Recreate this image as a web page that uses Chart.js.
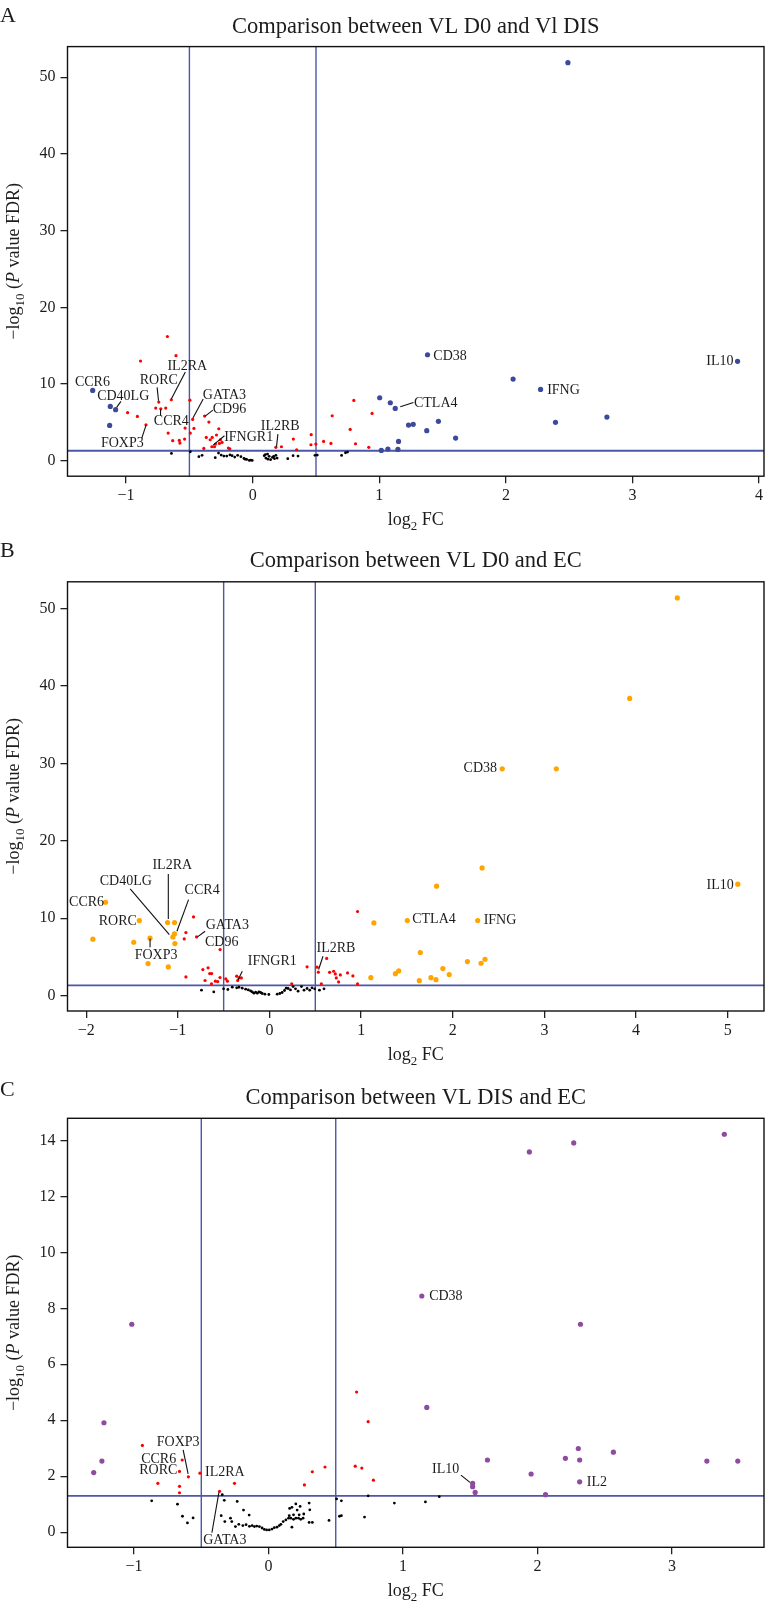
<!DOCTYPE html>
<html>
<head>
<meta charset="utf-8">
<script src="https://cdn.jsdelivr.net/npm/chart.js@4.4.1/dist/chart.umd.min.js"></script>
<style>
  html, body { margin: 0; padding: 0; background: #ffffff; }
  body { width: 768px; height: 1607px; position: relative; overflow: hidden; }
  .panel { position: absolute; left: 0; width: 768px; }
</style>
</head>
<body>
<div class="panel" id="pA" style="top:0px;height:535px"><canvas id="cA" width="768" height="535"></canvas></div>
<div class="panel" id="pB" style="top:535px;height:535px"><canvas id="cB" width="768" height="535"></canvas></div>
<div class="panel" id="pC" style="top:1070px;height:537px"><canvas id="cC" width="768" height="537"></canvas></div>
<script>
// ---------------- DATA ----------------
const FC_CUT = 0.5;                 // |log2 FC| threshold
const P_CUT = -Math.log10(0.05);    // FDR threshold line

// Panel A: VL D0 vs Vl DIS
const titleA = "Comparison between VL D0 and Vl DIS";
const xTicksA = [-1, 0, 1, 2, 3, 4];
const yTicksA = [0, 10, 20, 30, 40, 50];
const aSigX = [2.49, 1.381, 3.83, 2.057, 2.274, 1.003, 1.087, 1.126, 2.798, 2.392, 1.467, 1.231, 1.268, 1.375, 1.603, 1.152, 1.016, 1.068, 1.147, -1.264, -1.125, -1.083, -1.130];
const aSigY = [51.9, 13.82, 12.96, 10.65, 9.30, 8.21, 7.56, 6.82, 5.69, 5.00, 5.13, 4.65, 4.74, 3.91, 2.95, 2.52, 1.34, 1.52, 1.47, 9.17, 7.08, 6.65, 4.60];
const aRedX = [-0.674, -0.606, -0.886, -0.643, -0.742, -0.766, -0.726, -0.687, -0.496, -0.988, -0.911, -0.843, -0.474, -0.380, -0.346, -0.534, -0.464, -0.668, -0.493, -0.268, -0.367, -0.320, -0.286, -0.632, -0.580, -0.575, -0.538, -0.336, -0.255, -0.386, -0.323, -0.302, -0.294, -0.263, -0.242, -0.192, -0.181,
  0.183, 0.227, 0.321, 0.347, 0.462, 0.460, 0.499, 0.560, 0.618, 0.628, 0.770, 0.799, 0.812, 0.917, 0.943];
const aRedY = [16.2, 13.7, 13.0, 7.95, 7.65, 6.86, 6.77, 6.86, 7.9, 6.26, 5.78, 4.69, 5.39, 5.82, 5.04, 4.26, 4.21, 3.60, 3.60, 4.17, 3.04, 3.04, 3.35, 2.61, 2.65, 2.30, 2.82, 2.73, 2.73, 1.60, 1.82, 1.82, 2.17, 2.26, 2.39, 1.65, 1.56,
  1.74, 1.82, 2.82, 1.43, 3.39, 2.08, 2.17, 2.52, 2.26, 5.86, 4.08, 7.86, 2.21, 1.74, 6.17];
const aNsX = [-0.642, -0.493, -0.425, -0.40, -0.296, -0.270, -0.249, -0.228, -0.205, -0.18, -0.163, -0.142, -0.119, -0.093, -0.069, -0.06, -0.048, -0.027, -0.015, -0.004, 0.091, 0.10, 0.104, 0.117, 0.12, 0.130, 0.141, 0.156, 0.165, 0.172, 0.183, 0.193, 0.277, 0.319, 0.358, 0.492, 0.510, 0.702, 0.733, 0.749];
const aNsY = [0.95, 1.17, 0.52, 0.70, 0.39, 1.0, 0.74, 0.60, 0.60, 0.75, 0.65, 0.48, 0.70, 0.52, 0.30, 0.20, 0.17, 0.04, 0.08, 0.04, 0.65, 0.80, 0.35, 0.87, 0.20, 0.57, 0.13, 0.43, 0.55, 0.26, 0.70, 0.35, 0.26, 0.65, 0.60, 0.70, 0.74, 0.69, 1.04, 1.13];
const aLabText = ["CCR6", "CD40LG", "RORC", "IL2RA", "GATA3", "CD96", "CCR4", "FOXP3", "IFNGR1", "IL2RB", "CD38", "CTLA4", "IFNG", "IL10"];
const aLabX = [-1.266, -1.023, -0.742, -0.517, -0.223, -0.184, -0.643, -1.03, -0.032, 0.217, 1.559, 1.446, 2.455, 3.69];
const aLabY = [10.3, 8.52, 10.56, 12.43, 8.6, 6.78, 5.26, 2.39, 3.08, 4.52, 13.73, 7.52, 9.26, 12.96];
const aLeaders = [[-1.041, 7.73, -1.075, 6.95], [-0.755, 9.56, -0.744, 7.82], [-0.532, 11.56, -0.643, 8.04], [-0.391, 8.04, -0.472, 5.56], [-0.315, 6.60, -0.375, 5.82], [-0.728, 5.87, -0.728, 6.73], [-0.876, 2.95, -0.843, 4.6], [-0.223, 3.26, -0.315, 2.0], [0.199, 3.47, 0.188, 1.83], [1.166, 7.04, 1.27, 7.6]];

// Panel B: VL D0 vs EC
const titleB = "Comparison between VL D0 and EC";
const xTicksB = [-2, -1, 0, 1, 2, 3, 4, 5];
const yTicksB = [0, 10, 20, 30, 40, 50];
const bSigX = [4.45, 3.93, 2.54, 3.13, 2.32, 1.823, 5.11, -1.789, 1.504, 2.272, 1.139, -1.42, -1.112, -1.036, -1.036, -1.054, -1.032, -1.927, -1.481, -1.304, -1.325, -1.104, 1.646, 2.16, 2.352, 2.309, 1.892, 1.961, 1.41, 1.374, 1.106, 1.762, 1.817, 1.635];
const bSigY = [51.4, 38.4, 29.3, 29.3, 16.5, 14.13, 14.4, 12.06, 9.69, 9.69, 9.39, 9.69, 9.43, 9.43, 7.97, 7.58, 6.72, 7.28, 6.89, 7.41, 4.13, 3.70, 5.56, 4.39, 4.69, 4.17, 3.49, 2.71, 3.18, 2.83, 2.31, 2.31, 2.05, 1.92];
const bRedX = [-0.829, -0.912, -0.930, -0.796, -0.539, -0.912, -0.727, -0.670, -0.652, -0.631, -0.703, -0.633, -0.590, -0.565, -0.54, -0.477, -0.459, -0.358, -0.333, -0.307, -0.347, 0.243, 0.41, 0.52, 0.533, 0.624, 0.566, 0.656, 0.70, 0.718, 0.773, 0.729, 0.754, 0.852, 0.91, 0.961, 0.961];
const bRedY = [10.16, 8.14, 7.32, 7.58, 5.94, 2.41, 3.36, 3.58, 2.84, 2.84, 1.94, 1.51, 1.85, 1.81, 2.33, 2.15, 1.85, 2.50, 2.28, 2.28, 1.94, 1.51, 3.71, 3.66, 3.02, 4.79, 1.51, 3.0, 3.14, 2.79, 2.66, 2.27, 1.76, 2.92, 2.53, 10.86, 1.5];
const bNsX = [-0.742, -0.608, -0.501, -0.454, -0.406, -0.358, -0.333, -0.297, -0.26, -0.231, -0.206, -0.188, -0.17, -0.151, -0.133, -0.115, -0.097, -0.079, -0.05, -0.007, 0.084, 0.113, 0.138, 0.164, 0.182, 0.203, 0.229, 0.258, 0.284, 0.312, 0.349, 0.377, 0.41, 0.439, 0.464, 0.493, 0.545, 0.595];
const bNsY = [0.69, 0.47, 0.86, 0.78, 1.08, 1.0, 1.07, 0.95, 0.82, 0.73, 0.60, 0.47, 0.30, 0.43, 0.30, 0.47, 0.39, 0.26, 0.17, 0.13, 0.17, 0.26, 0.39, 0.65, 0.95, 0.91, 0.73, 1.16, 0.86, 0.56, 1.16, 0.69, 0.91, 0.69, 0.99, 0.86, 0.69, 0.86];
const bLabText = ["CCR6", "RORC", "IL2RA", "CD40LG", "CCR4", "GATA3", "CD96", "FOXP3", "IFNGR1", "IL2RB", "CD38", "CTLA4", "IFNG", "IL10"];
const bLabX = [-1.996, -1.655, -1.061, -1.568, -0.735, -0.46, -0.521, -1.238, 0.03, 0.725, 2.30, 1.795, 2.515, 4.917];
const bLabY = [12.1, 9.69, 16.93, 14.86, 13.61, 9.18, 6.93, 5.3, 4.52, 6.15, 29.39, 9.95, 9.77, 14.36];
const bLeaders = [[-1.104, 15.72, -1.104, 9.9], [-1.52, 13.78, -1.093, 7.88], [-0.883, 12.4, -1.01, 8.31], [-0.702, 8.31, -0.786, 7.58], [-1.303, 7.37, -1.303, 6.24], [-0.297, 3.14, -0.343, 2.02], [0.584, 5.08, 0.536, 3.36]];

// Panel C: VL DIS vs EC
const titleC = "Comparison between VL DIS and EC";
const xTicksC = [-1, 0, 1, 2, 3];
const yTicksC = [0, 2, 4, 6, 8, 10, 12, 14];
const cSigX = [3.39, 2.27, 1.94, 1.14, -1.017, 2.32, 1.177, -1.224, -1.239, -1.30, 2.304, 2.565, 2.208, 2.314, 1.628, 3.26, 3.49, 1.953, 2.314, 1.518, 1.518, 1.537, 2.06];
const cSigY = [14.22, 13.91, 13.59, 8.44, 7.43, 7.43, 4.46, 3.91, 2.54, 2.13, 2.99, 2.86, 2.64, 2.58, 2.58, 2.54, 2.54, 2.08, 1.80, 1.745, 1.625, 1.42, 1.34];
const cRedX = [-0.938, -0.642, -0.662, -0.596, -0.51, -0.823, -0.662, -0.662, -0.364, -0.253, 0.267, 0.326, 0.42, 0.655, 0.741, 0.645, 0.694, 0.78];
const cRedY = [3.10, 2.58, 2.17, 1.98, 2.11, 1.745, 1.64, 1.41, 1.46, 1.745, 1.69, 2.16, 2.33, 5.01, 3.95, 2.36, 2.29, 1.86];
const cNsX = [-0.869, -0.677, -0.640, -0.603, -0.561, -0.344, -0.329, -0.233, -0.186, -0.144, -0.352, -0.325, -0.283, -0.273, -0.246, -0.221,
  -0.191, -0.167, -0.142, -0.122, -0.105, -0.088, -0.068, -0.048, -0.031, -0.014, 0.006, 0.026, 0.043, 0.063, 0.080, 0.092, 0.109, 0.129, 0.149, 0.166, 0.186, 0.203, 0.223, 0.240, 0.257,
  0.157, 0.174, 0.203, 0.235, 0.213, 0.186, 0.228, 0.262, 0.302, 0.307, 0.302, 0.326, 0.154, 0.174,
  0.45, 0.506, 0.542, 0.528, 0.542, 0.714, 0.741, 0.936, 1.167, 1.27];
const cNsY = [1.12, 1.00, 0.57, 0.33, 0.51, 1.34, 1.14, 1.10, 0.79, 0.61, 0.59, 0.38, 0.50, 0.38, 0.20, 0.28,
  0.235, 0.27, 0.21, 0.235, 0.20, 0.22, 0.20, 0.15, 0.10, 0.08, 0.08, 0.11, 0.16, 0.18, 0.235, 0.28, 0.38, 0.44, 0.50, 0.50, 0.46, 0.50, 0.50, 0.46, 0.50,
  0.85, 0.89, 1.01, 0.92, 0.79, 0.62, 0.62, 0.65, 1.04, 0.80, 0.35, 0.35, 0.59, 0.18,
  0.42, 1.19, 1.12, 0.57, 0.59, 0.54, 1.30, 1.04, 1.08, 1.27];
const cLabText = ["CD38", "FOXP3", "CCR6", "RORC", "IL2RA", "GATA3", "IL10", "IL2"];
const cLabX = [1.319, -0.672, -0.817, -0.82, -0.325, -0.325, 1.317, 2.442];
const cLabY = [8.46, 3.24, 2.61, 2.23, 2.17, -0.26, 2.28, 1.80];
const cLeaders = [[-0.635, 2.94, -0.598, 2.08], [-0.369, 1.42, -0.421, -0.02], [1.431, 2.04, 1.498, 1.78]];

// ---------------- STYLE ----------------
const FONT = '"Liberation Serif", "DejaVu Serif", serif';
const INK = '#1c1c1c';
const LINE_BLUE = '#4b57a8';

function pts(xs, ys) { return xs.map((x, i) => ({ x: x, y: ys[i] })); }

function drawRich(ctx, segs, cx, cy, size, rotate) {
  ctx.save();
  ctx.translate(cx, cy);
  if (rotate) ctx.rotate(-Math.PI / 2);
  let total = 0;
  const parts = segs.map(s => {
    const fs = s.sub ? size * 0.72 : size;
    const font = (s.it ? 'italic ' : '') + fs + 'px ' + FONT;
    ctx.font = font;
    const w = ctx.measureText(s.t).width;
    total += w;
    return { s: s, font: font, w: w };
  });
  let x = -total / 2;
  ctx.textBaseline = 'alphabetic';
  ctx.textAlign = 'left';
  ctx.fillStyle = INK;
  parts.forEach(p => {
    ctx.font = p.font;
    ctx.fillText(p.s.t, x, p.s.sub ? size * 0.28 : 0);
    x += p.w;
  });
  ctx.restore();
}

function makePanel(id, cfg) {
  const H = cfg.H;
  const decor = {
    id: 'decor',
    beforeDatasetsDraw(chart) {
      const ctx = chart.ctx, a = chart.chartArea;
      const xs = chart.scales.x, ys = chart.scales.y;
      ctx.save();
      ctx.beginPath(); ctx.rect(a.left, a.top, a.right - a.left, a.bottom - a.top); ctx.clip();
      ctx.strokeStyle = LINE_BLUE;
      ctx.lineWidth = 1.4;
      [-FC_CUT, FC_CUT].forEach(v => {
        const px = xs.getPixelForValue(v);
        ctx.beginPath(); ctx.moveTo(px, a.top); ctx.lineTo(px, a.bottom); ctx.stroke();
      });
      ctx.lineWidth = 1.8;
      const py = ys.getPixelForValue(P_CUT);
      ctx.beginPath(); ctx.moveTo(a.left, py); ctx.lineTo(a.right, py); ctx.stroke();
      ctx.restore();
    },
    afterDatasetsDraw(chart) {
      const ctx = chart.ctx, a = chart.chartArea;
      const xs = chart.scales.x, ys = chart.scales.y;
      ctx.save();
      // leader lines
      ctx.strokeStyle = '#111';
      ctx.lineWidth = 1.1;
      cfg.leaders.forEach(l => {
        ctx.beginPath();
        ctx.moveTo(xs.getPixelForValue(l[0]), ys.getPixelForValue(l[1]));
        ctx.lineTo(xs.getPixelForValue(l[2]), ys.getPixelForValue(l[3]));
        ctx.stroke();
      });
      // gene labels
      ctx.font = '14px ' + FONT;
      ctx.fillStyle = INK;
      ctx.textAlign = 'center';
      ctx.textBaseline = 'middle';
      cfg.labText.forEach((t, i) => {
        ctx.fillText(t, xs.getPixelForValue(cfg.labX[i]), ys.getPixelForValue(cfg.labY[i]) + 0.5);
      });
      // frame
      ctx.strokeStyle = '#111';
      ctx.lineWidth = 1.4;
      ctx.strokeRect(a.left, a.top, a.right - a.left, a.bottom - a.top);
      // title
      ctx.font = '22.5px ' + FONT;
      ctx.textAlign = 'center';
      ctx.textBaseline = 'alphabetic';
      ctx.fillText(cfg.title, (a.left + a.right) / 2, cfg.titleBase);
      // panel letter
      ctx.font = '22px ' + FONT;
      ctx.textAlign = 'left';
      ctx.fillText(cfg.letter, 0, cfg.letterBase);
      ctx.restore();
      // axis titles
      drawRich(ctx, [{ t: 'log' }, { t: '2', sub: true }, { t: ' FC' }], (a.left + a.right) / 2, a.bottom + 49, 18, false);
      drawRich(ctx, [{ t: '\u2212log' }, { t: '10', sub: true }, { t: ' (' }, { t: 'P', it: true }, { t: ' value FDR)' }], 19, (a.top + a.bottom) / 2, 18, true);
    }
  };

  const tickFont = { family: FONT, size: 16 };
  return new Chart(document.getElementById(id), {
    type: 'scatter',
    data: {
      datasets: [
        { data: pts(cfg.nsX, cfg.nsY), backgroundColor: '#000000', borderWidth: 0, pointRadius: 1.4 },
        { data: pts(cfg.redX, cfg.redY), backgroundColor: '#ff0000', borderWidth: 0, pointRadius: 1.6 },
        { data: pts(cfg.sigX, cfg.sigY), backgroundColor: cfg.sigColor, borderWidth: 0, pointRadius: 2.6 }
      ]
    },
    options: {
      responsive: false,
      animation: false,
      devicePixelRatio: 1,
      layout: { padding: { top: cfg.top, right: 2, left: 0, bottom: 0 } },
      plugins: { legend: { display: false }, tooltip: { enabled: false }, title: { display: false } },
      scales: {
        x: {
          type: 'linear', min: cfg.xMin, max: cfg.xMax,
          afterBuildTicks: s => { s.ticks = cfg.xTicks.map(v => ({ value: v })); },
          afterFit: s => { s.height = H - cfg.bottom; },
          border: { display: false },
          grid: { drawOnChartArea: false, drawTicks: true, tickLength: 7, color: '#222', lineWidth: 1.3 },
          ticks: { font: tickFont, color: INK, padding: 3, maxRotation: 0, callback: v => String(v).replace('-', '\u2212') }
        },
        y: {
          type: 'linear', min: cfg.yMin, max: cfg.yMax,
          afterBuildTicks: s => { s.ticks = cfg.yTicks.map(v => ({ value: v })); },
          afterFit: s => { s.width = 67.5; },
          border: { display: false },
          grid: { drawOnChartArea: false, drawTicks: true, tickLength: 7, color: '#222', lineWidth: 1.3 },
          ticks: { font: tickFont, color: INK, padding: 5, callback: v => String(v).replace('-', '\u2212') }
        }
      }
    },
    plugins: [decor]
  });
}

makePanel('cA', {
  H: 535, top: 46.6, bottom: 476.2, titleBase: 33, letterBase: 22, letter: 'A', title: titleA,
  xMin: -1.463, xMax: 4.039, yMin: -2.02, yMax: 54.0, xTicks: xTicksA, yTicks: yTicksA,
  sigX: aSigX, sigY: aSigY, redX: aRedX, redY: aRedY, nsX: aNsX, nsY: aNsY, sigColor: '#3b4a9b',
  labText: aLabText, labX: aLabX, labY: aLabY, leaders: aLeaders
});
makePanel('cB', {
  H: 535, top: 46.8, bottom: 476, titleBase: 32, letterBase: 22, letter: 'B', title: titleB,
  xMin: -2.204, xMax: 5.396, yMin: -2.0, yMax: 53.48, xTicks: xTicksB, yTicks: yTicksB,
  sigX: bSigX, sigY: bSigY, redX: bRedX, redY: bRedY, nsX: bNsX, nsY: bNsY, sigColor: '#ffa500',
  labText: bLabText, labX: bLabX, labY: bLabY, leaders: bLeaders
});
makePanel('cC', {
  H: 537, top: 48.3, bottom: 477.3, titleBase: 34.3, letterBase: 25.5, letter: 'C', title: titleC,
  xMin: -1.495, xMax: 3.685, yMin: -0.54, yMax: 14.79, xTicks: xTicksC, yTicks: yTicksC,
  sigX: cSigX, sigY: cSigY, redX: cRedX, redY: cRedY, nsX: cNsX, nsY: cNsY, sigColor: '#8e4ba0',
  labText: cLabText, labX: cLabX, labY: cLabY, leaders: cLeaders
});
</script>
</body>
</html>
